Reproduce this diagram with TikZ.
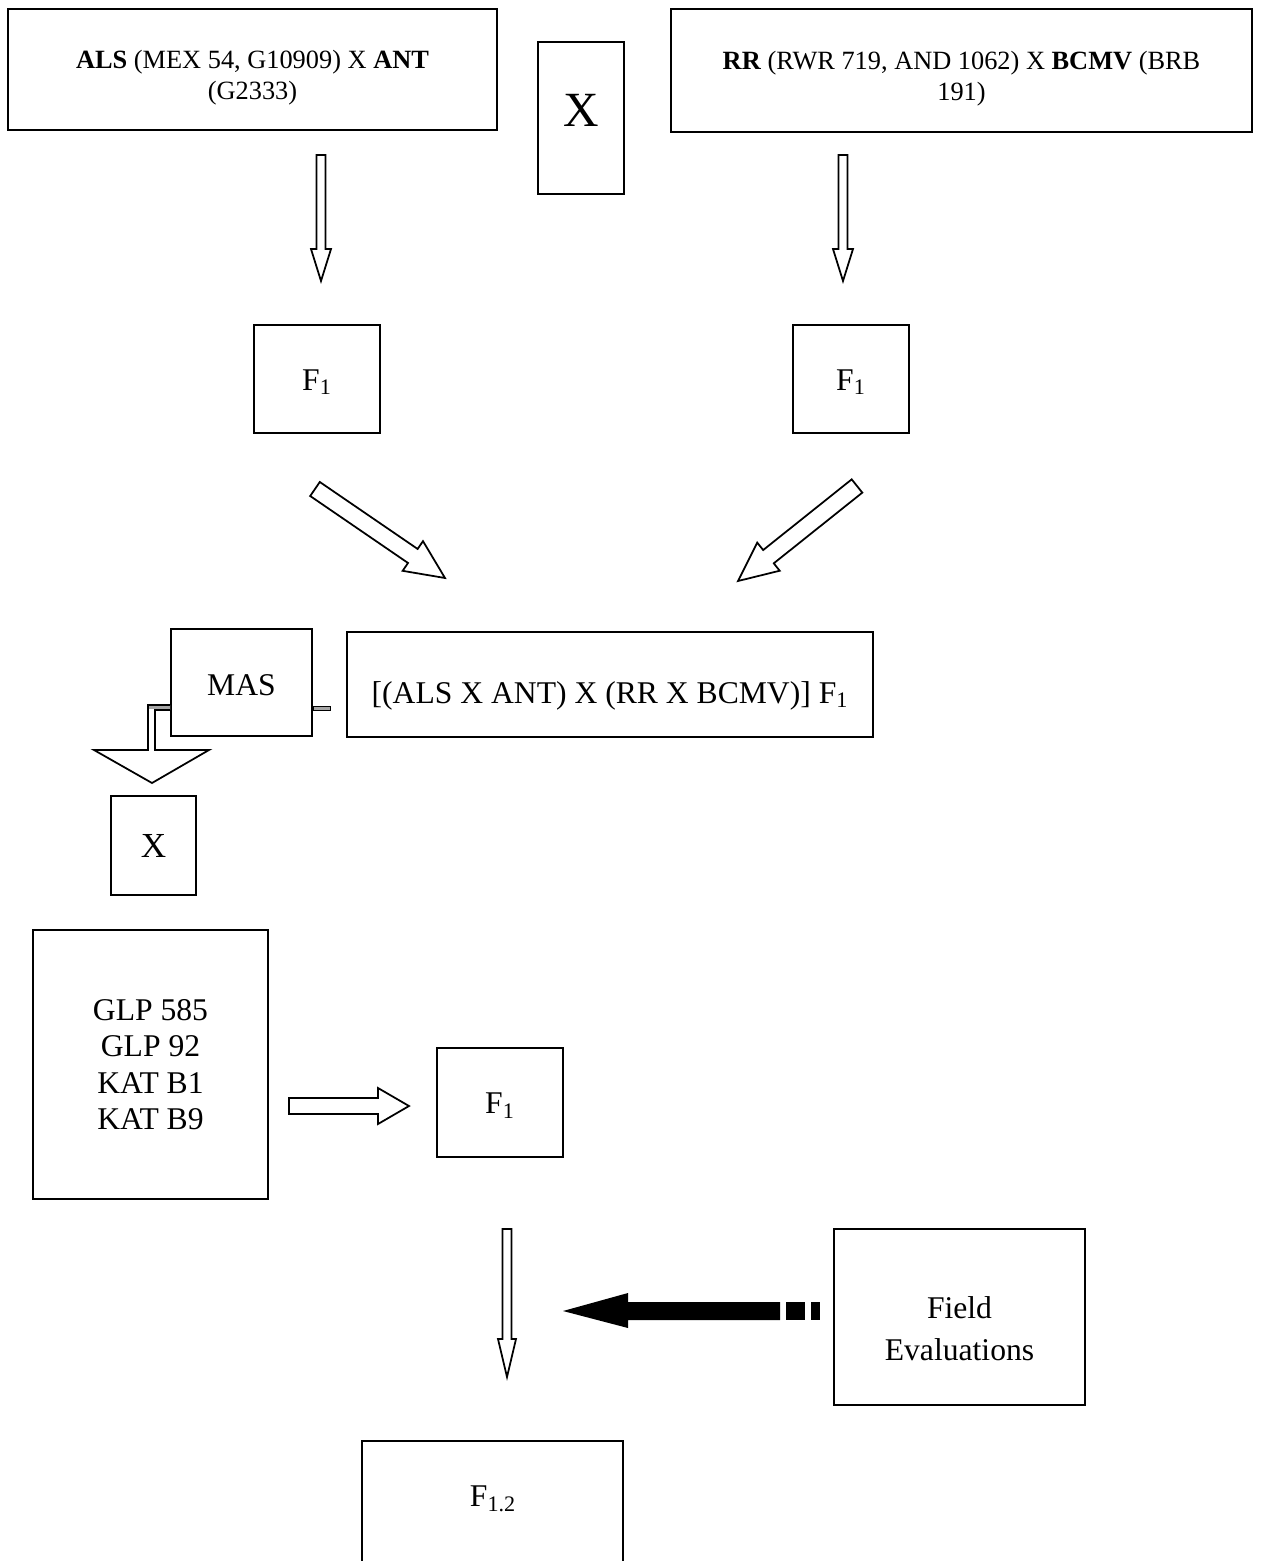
\documentclass[tikz,border=0pt]{standalone}
\usepackage{fontspec}
\setmainfont{Liberation Serif}
\usetikzlibrary{calc,fit}

\tikzset{
  plainbox/.style={draw,line width=1.1pt,inner sep=0pt},
  smalltxt/.style={font=\fontsize{15}{17.6}\selectfont,align=center},
  midtxt/.style={font=\fontsize{18}{20.8}\selectfont,align=center},
  arrowline/.style={draw,fill=white,line width=1pt,line join=miter}
}

% hollow block arrow: tail, tip, half shaft, half head, head length
\newcommand{\hollowarrow}[5]{%
  \coordinate (neck) at ($(#2)!#5!(#1)$);
  \filldraw[arrowline] ($(#1)!#3!90:(#2)$) -- ($(neck)!#3!-90:(#1)$)
    -- ($(neck)!#4!-90:(#1)$) -- (#2) -- ($(neck)!#4!90:(#1)$)
    -- ($(neck)!#3!90:(#1)$) -- ($(#1)!#3!-90:(#2)$) -- cycle;}

\begin{document}
\begin{tikzpicture}[x=0.02cm,y=-0.02cm]
  \useasboundingbox (0,0) rectangle (1261,1561);
  \clip (0,0) rectangle (1261,1561);

  % parents
  \node[plainbox,fit={(8,9) (497,130)},
    label={[smalltxt,yshift=-0.17cm]center:\textbf{ALS} (MEX 54, G10909) X \textbf{ANT}\\(G2333)}] (als) {};
  \node[plainbox,fit={(538,42) (624,194)},
    label={[font=\fontsize{28}{30}\selectfont,yshift=0.16cm]center:X}] (cross) {};
  \node[plainbox,fit={(671,9) (1252,132)},
    label={[smalltxt,yshift=-0.16cm]center:\textbf{RR} (RWR 719, AND 1062) X \textbf{BCMV} (BRB\\191)}] (rr) {};

  \coordinate (a1s) at (321,155);
  \coordinate (a1e) at (321,281);
  \hollowarrow{a1s}{a1e}{0.09cm}{0.2cm}{0.64cm}
  \coordinate (a2s) at (843,155);
  \coordinate (a2e) at (843,281);
  \hollowarrow{a2s}{a2e}{0.09cm}{0.2cm}{0.64cm}

  % first F1
  \node[plainbox,fit={(254,325) (380,433)},
    label={[midtxt,yshift=-0.06cm]center:F\textsubscript{1}}] (fonea) {};
  \node[plainbox,fit={(793,325) (909,433)},
    label={[midtxt,yshift=-0.06cm]center:F\textsubscript{1}}] (foneb) {};

  \coordinate (a3s) at (315,489);
  \coordinate (a3e) at (445,578);
  \hollowarrow{a3s}{a3e}{0.17cm}{0.36cm}{0.78cm}
  \coordinate (a4s) at (857,486);
  \coordinate (a4e) at (738,581);
  \hollowarrow{a4s}{a4e}{0.17cm}{0.36cm}{0.78cm}

  % double cross and MAS
  \node[plainbox,fit={(171,629) (312,736)},
    label={[midtxt,yshift=-0.05cm]center:MAS}] (mas) {};
  \node[plainbox,fit={(347,632) (873,737)},
    label={[midtxt,yshift=-0.22cm]center:[(ALS X ANT) X (RR X BCMV)] F\textsubscript{1}}] (dcross) {};

  \filldraw[arrowline] (mas.west |- 0,705) -- (148,705) -- (148,750) -- (94,750)
    -- (152,783) -- (209,750) -- (155,750) -- (155,710) -- (mas.west |- 0,710);
  \fill[gray!70] (149,706) rectangle (mas.west |- 0,709);
  \filldraw[fill=gray!70,line width=0.5pt] (mas.east |- 0,706) rectangle (330,710);

  % backcross
  \node[plainbox,fit={(111,796) (196,895)},
    label={[font=\fontsize{20}{22}\selectfont]center:X}] (crossb) {};
  \node[plainbox,fit={(33,930) (268,1199)},
    label={[midtxt]center:GLP 585\\GLP 92\\KAT B1\\KAT B9}] (glp) {};
  \node[plainbox,fit={(437,1048) (563,1157)},
    label={[midtxt,yshift=-0.06cm]center:F\textsubscript{1}}] (fonec) {};

  \coordinate (a5s) at (289,1106);
  \coordinate (a5e) at (409,1106);
  \hollowarrow{a5s}{a5e}{0.16cm}{0.36cm}{0.62cm}
  \coordinate (a6s) at (507,1229);
  \coordinate (a6e) at (507,1377);
  \hollowarrow{a6s}{a6e}{0.09cm}{0.18cm}{0.76cm}

  % field evaluations
  \node[plainbox,fit={(834,1229) (1085,1405)},
    label={[font=\fontsize{18}{24}\selectfont,align=center,yshift=-0.24cm]center:Field\\Evaluations}] (field) {};
  \coordinate (ftip) at (563,1311);
  \fill (ftip) -- (628,1293) -- (628,1302) -- (780,1302) -- (780,1320)
    -- (628,1320) -- (628,1328) -- cycle;
  \fill (786,1302) rectangle (805,1320);
  \fill (811,1302) rectangle (820,1320);

  % last generation, box runs off the page
  \node[plainbox,fit={(362,1441) (623,1620)}] (fonetwo) {};
  \node[midtxt] (fonetwotxt) at (493,1499) {F\textsubscript{1.2}};
\end{tikzpicture}
\end{document}
